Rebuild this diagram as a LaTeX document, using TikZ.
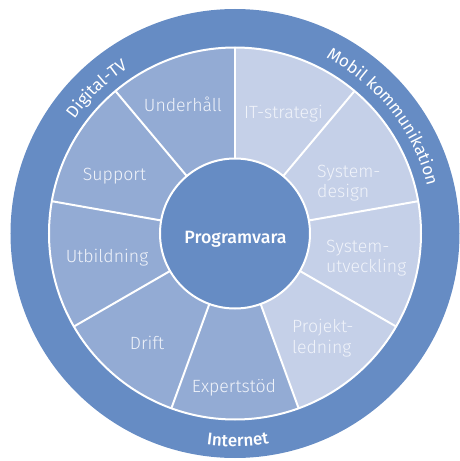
\documentclass[tikz,border=0pt]{standalone}
\usepackage{fontspec}
\setmainfont{Fira Sans Light}
\newfontfamily\medfont{Fira Sans Medium}
\newfontfamily\regfont{Fira Sans}
\usetikzlibrary{decorations.text}
\definecolor{ringblue}{RGB}{102,140,196}
\definecolor{midblue}{RGB}{147,171,212}
\definecolor{lightblue}{RGB}{197,208,232}
\definecolor{labeltext}{RGB}{240,243,250}
\begin{document}
\begin{tikzpicture}[x=1pt,y=1pt,
  seclabel/.style={text=labeltext, inner sep=0, anchor=base, font=\fontsize{17.7}{21}\selectfont},
  stacklabel/.style={text=labeltext, inner sep=0, anchor=base west, font=\fontsize{17.7}{20.5}\selectfont},
  divider/.style={white, line width=2pt},
  ringpath/.style={decorate, decoration={text along path, text align=center, text={#1}}}]
\useasboundingbox (-235,-227.5) rectangle (225,233.5);
% outer ring
\fill[ringblue] (0,0) circle (224.5);
% sector disc
\fill[midblue] (0,0) circle (186);
\fill[lightblue] (0,0) -- (90:186) arc (90:-70:186) -- cycle;
\foreach \a in {90,50,10,-30,-70,-110,-150,170,130}
  \draw[divider] (\a:70) -- (\a:186);
\draw[divider] (0,0) circle (186);
% core
\node[circle, fill=ringblue, draw=white, line width=2pt, minimum size=150pt, inner sep=0] (core) at (0,0) {};
\node[text=white, inner sep=0, anchor=base, font=\fontsize{17.8}{21}\selectfont\medfont] (prog) at (0.5,-9.5) {Programvara};
% sector labels
\node[seclabel] (underhall) at (-52,121.5) {Underhåll};
\node[seclabel] (itstrategi) at (48.5,115.5) {IT-strategi};
\node[stacklabel] (sysdesign) at (82,56.5) {\vtop{\hbox{System-}\hbox{design}}};
\node[stacklabel] (sysutv) at (91,-18.5) {\vtop{\hbox{System-}\hbox{utveckling}}};
\node[stacklabel] (projekt) at (57,-99) {\vtop{\hbox{Projekt-}\hbox{ledning}}};
\node[seclabel] (support) at (-120.5,53.5) {Support};
\node[seclabel] (utbildning) at (-128,-28.5) {Utbildning};
\node[seclabel] (drift) at (-88,-115.5) {Drift};
\node[seclabel] (expert) at (-1,-158.5) {Expertstöd};
% ring labels
\path[ringpath={|\color{white}\regfont\fontsize{17}{17}\selectfont|Digital-TV}] (163.7:197) arc (163.7:103.7:197);
\path[ringpath={|\color{white}\regfont\fontsize{17}{17}\selectfont|Mobil kommunikation}] (78.3:198) arc (78.3:-1.7:198);
\path[ringpath={|\color{white}\medfont\fontsize{17}{17}\selectfont|Internet}] (240.8:213) arc (240.8:300.8:213);
\end{tikzpicture}
\end{document}
